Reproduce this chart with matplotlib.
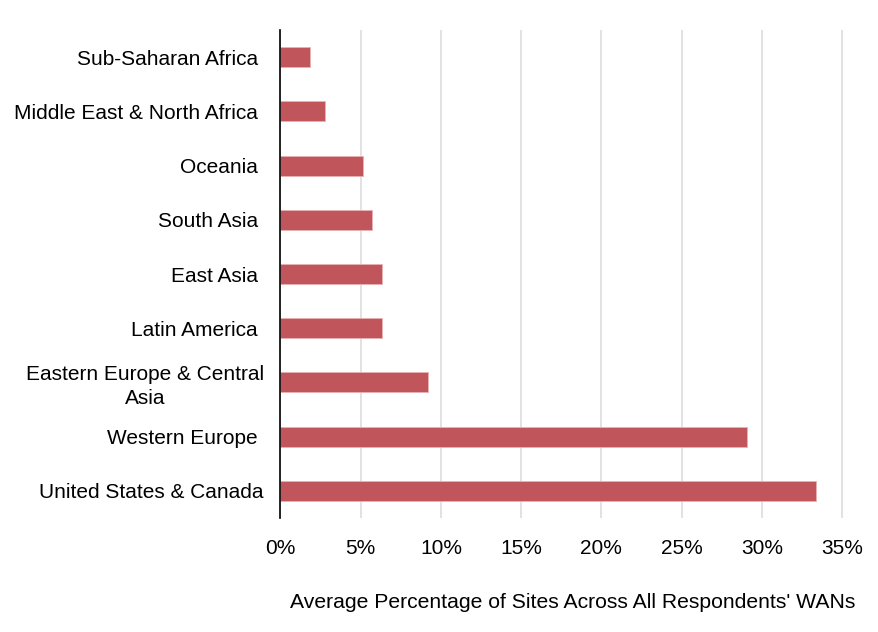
import matplotlib
matplotlib.use("Agg")
import matplotlib.pyplot as plt
from matplotlib.ticker import FuncFormatter

regions = ["Sub-Saharan Africa ", "Middle East & North Africa ", "Oceania ", "South Asia ",
           "East Asia ", "Latin America ", "Eastern Europe & Central\nAsia", "Western Europe ",
           "United States & Canada"]
values = [1.86, 2.79, 5.16, 5.7, 6.3, 6.3, 9.21, 29.08, 33.38]
xticks = [0, 5, 10, 15, 20, 25, 30, 35]

plt.rcParams['font.family'] = ['Liberation Sans', 'DejaVu Sans']

fig = plt.figure(figsize=(8.79, 6.32), dpi=100)
ax = fig.add_axes([280.5/879, 1-518/632, (850-280.5)/879, (518-30)/632])

ypos = list(range(len(regions)))
ax.barh(ypos, values, height=0.37, color="#C0565B", edgecolor="#E8B0B2", linewidth=0.6, zorder=3)
ax.set_ylim(len(regions)-0.5, -0.5)
ax.set_xlim(0, 35.5)
ax.set_yticks(ypos)
ax.set_yticklabels(regions, fontsize=15, linespacing=1.3, multialignment='center')
ax.set_xticks(xticks)
ax.xaxis.set_major_formatter(FuncFormatter(lambda v, p: f"{int(v)}%"))
ax.tick_params(axis='x', labelsize=15, length=0, pad=15)
ax.tick_params(axis='y', length=0, pad=12)
ax.grid(axis='x', color="#DDDDDD", linewidth=1.2, zorder=0)
for s in ['top', 'right', 'bottom']:
    ax.spines[s].set_visible(False)
ax.spines['left'].set_color('black')
ax.spines['left'].set_linewidth(1.2)
ax.spines['left'].set_zorder(4)
fig.text(573/879, 1-603/632, "Average Percentage of Sites Across All Respondents' WANs",
         fontsize=15.2, ha='center', va='center')

fig.savefig("out.png", dpi=100)
